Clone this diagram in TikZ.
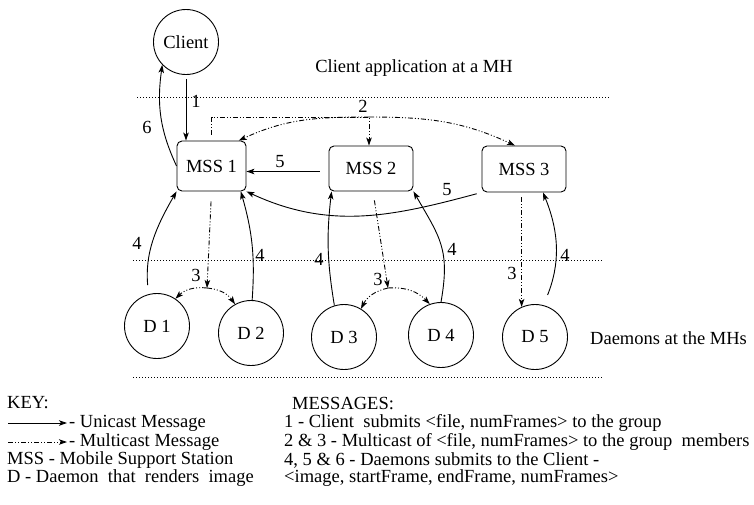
\documentclass[tikz,border=0pt]{standalone}
\usepackage{fontspec}
\setmainfont{Liberation Serif}
\usetikzlibrary{arrows.meta}
\tikzset{
  every node/.style={font=\fontsize{18.5}{20}\selectfont},
  host/.style={draw, circle, minimum size=65pt, inner sep=0pt, line width=0.9pt},
  station/.style={draw, rounded corners=5pt, inner sep=0pt, line width=0.9pt},
  txt/.style={anchor=west, inner sep=0pt},
  uni/.style={-{Stealth[length=8pt,width=5.5pt,inset=2pt]}, line width=0.9pt},
  multi/.style={uni, dash pattern=on 5pt off 2pt on 1pt off 2pt on 1pt off 2pt},
  sep/.style={line width=0.9pt, dash pattern=on 1pt off 2pt}
}
\begin{document}
\begin{tikzpicture}[x=1pt,y=1pt]
      \useasboundingbox (0,0) rectangle (754,-504);
      \draw
        (186,-42) node[host] (client){Client}
        (211.5,-166) node[station, minimum width=69pt, minimum height=50pt] (mss1){MSS 1}
        (371,-168.5) node[station, minimum width=84pt, minimum height=45pt] (mss2){MSS 2}
        (524,-169) node[station, minimum width=84pt, minimum height=46pt] (mss3){MSS 3}
        (157,-326) node[host] (d1){D 1}
        (251,-333) node[host] (d2){D 2}
        (344,-337) node[host] (d3){D 3}
        (441,-335) node[host] (d4){D 4}
        (535,-337) node[host] (d5){D 5};
      \node (clientapp) at (414,-68) {Client application at a MH};
      \node[txt] (daemons) at (590,-338) {Daemons at the MHs};
      \draw[sep] (137,-97) -- (609,-97);
      \draw[sep] (133,-260) -- (603,-260);
      \draw[sep] (133,-377) -- (603,-377);
      \coordinate (m0) at (369,-117);
      \coordinate (m1) at (207,-288);
      \coordinate (m2) at (388,-288);
      \begin{scope}[uni]
        \draw[shorten <=4pt] (client.south) -- (client.south |- mss1.north);
        \draw (mss1.west) to[out=115,in=262] (client.224);
        \draw[shorten <=9pt] ([yshift=-3pt]mss2.west) -- ([yshift=-3pt]mss2.west -| mss1.east);
        \draw[shorten <=5pt] (mss3.south west) to[out=195,in=-25] (mss1.south east);
        \draw[shorten <=9pt] (d1.105) to[out=95,in=240] (mss1.south west);
        \draw (d2.88) to[bend right=10] (mss1.-41);
        \draw (d3.107) to[bend left=8] ([xshift=3pt]mss2.south west);
        \draw (d4.north) to[out=80,in=-60,looseness=1.2] (mss2.south east);
        \draw[shorten <=11pt] (d5.75) to[bend right=22] (mss3.-51);
      \end{scope}
      \begin{scope}[multi]
        \draw[shorten <=6pt] (mss1.north) |- (m0) -- (m0 |- mss2.north);
        \draw (m0) to[out=180,in=25] (mss1.43);
        \draw (m0) to[out=0,in=155] (mss3.111);
        \draw[shorten <=10pt] (mss1.south) -- (m1);
        \draw (m1) to[bend right=25] (d1.56);
        \draw (m1) to[bend left=25] (d2.119);
        \draw[shorten <=9pt] ([xshift=2pt]mss2.south) -- (m2);
        \draw (m2) to[bend right=25] (d3.59);
        \draw (m2) to[bend left=25] (d4.110);
        \draw[shorten <=5pt] (mss3.south -| d5.114) -- (d5.114);
      \end{scope}
      \node (l1) at (196,-101) {1};
      \node (l6) at (147,-127) {6};
      \node (l2) at (363,-106) {2};
      \node (l5a) at (280,-162) {5};
      \node (l5b) at (447,-190) {5};
      \node (l4a) at (137,-243) {4};
      \node (l4b) at (260,-255) {4};
      \node (l3a) at (196,-275) {3};
      \node (l4c) at (319,-259) {4};
      \node (l3b) at (378,-279) {3};
      \node (l4d) at (452,-249) {4};
      \node (l3c) at (512,-273) {3};
      \node (l4e) at (565,-255) {4};
      \node[txt] (key) at (7,-403) {KEY:};
      \coordinate (ku) at (8,-423);
      \node[txt] (kutext) at (69,-423) {- Unicast Message};
      \draw[uni] (ku) -- ([xshift=-2pt]kutext.west);
      \coordinate (km) at (8,-442);
      \node[txt] (kmtext) at (69,-442) {- Multicast Message};
      \draw[multi] (km) -- ([xshift=-2pt]kmtext.west);
      \node[txt] (kmss) at (7,-460) {MSS - Mobile Support Station};
      \node[txt] (kd) at (7,-478) {D - Daemon\ \ that\ \ renders\ \ image};
      \node[txt] (msghead) at (292,-403) {MESSAGES:};
      \node[txt] (msg1) at (284,-423) {1 - Client\ \ submits <file, numFrames> to the group};
      \node[txt] (msg2) at (284,-442) {2 \& 3 - Multicast of <file, numFrames> to the group\ \ members};
      \node[txt] (msg3) at (284,-460) {4, 5 \& 6 - Daemons submits to the Client -};
      \node[txt] (msg4) at (284,-478) {<image, startFrame, endFrame, numFrames>};
    \end{tikzpicture}
\end{document}
